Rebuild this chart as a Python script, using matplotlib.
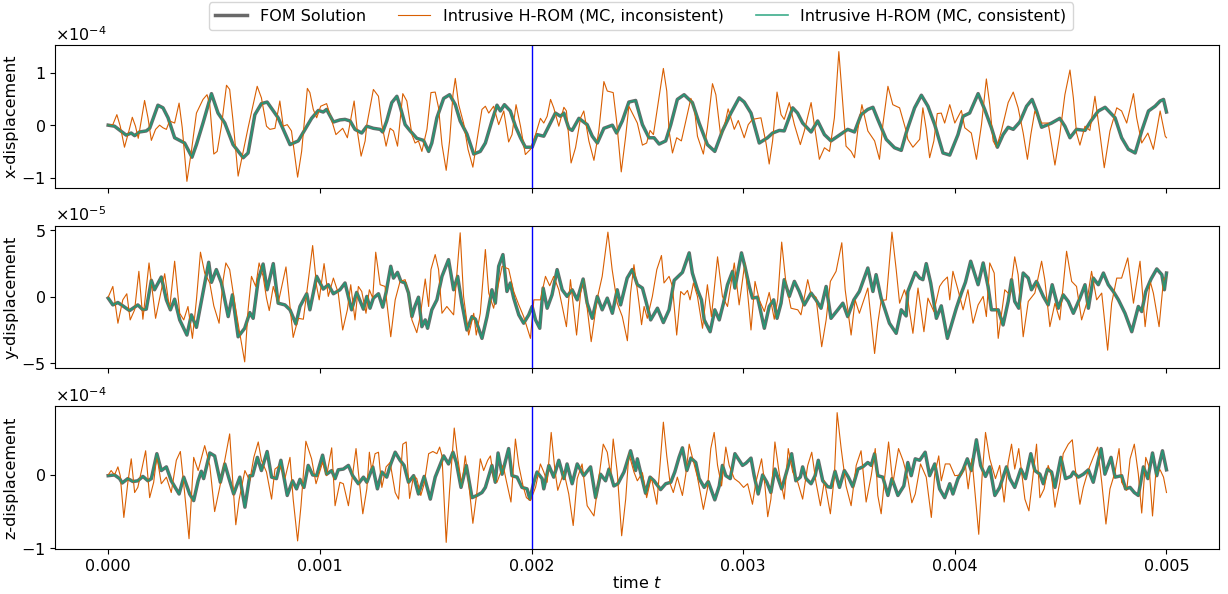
import numpy as np
import matplotlib
matplotlib.use("Agg")
import matplotlib.pyplot as plt
from matplotlib.ticker import MultipleLocator

# values: (time in 1e-3 s, displacement in units of the offset)
# x-displacement, units of 1e-4
x_fom = [
    (0.000, 0.00), (0.030, -0.02), (0.085, -0.19), (0.109, -0.15), (0.125, -0.20), (0.148, -0.13),
    (0.180, -0.11), (0.196, -0.06), (0.235, 0.38), (0.259, 0.33), (0.283, 0.14), (0.314, -0.24),
    (0.361, -0.34), (0.396, -0.61), (0.417, -0.37), (0.448, 0.04), (0.488, 0.60), (0.519, 0.23),
    (0.551, 0.04), (0.590, -0.37), (0.638, -0.62), (0.661, -0.53), (0.693, 0.20), (0.724, 0.41),
    (0.751, 0.44), (0.803, 0.14), (0.859, -0.37), (0.898, -0.30), (0.930, -0.08), (0.961, 0.13),
    (0.993, 0.28), (1.016, 0.25), (1.032, 0.30), (1.064, 0.06), (1.095, 0.10), (1.119, 0.11),
    (1.143, 0.08), (1.166, -0.08), (1.198, -0.15), (1.222, -0.02), (1.253, -0.06), (1.285, -0.08),
    (1.297, -0.13), (1.316, 0.08), (1.340, 0.43), (1.364, 0.55), (1.379, 0.36), (1.403, 0.01),
    (1.427, -0.11), (1.458, -0.25), (1.490, -0.29), (1.514, -0.50), (1.529, -0.34), (1.553, 0.14),
    (1.585, 0.51), (1.613, 0.58), (1.640, 0.39), (1.663, 0.08), (1.695, -0.17), (1.727, -0.55),
    (1.758, -0.50), (1.782, -0.34), (1.813, 0.08), (1.837, 0.38), (1.853, 0.27), (1.872, 0.39),
    (1.900, 0.27), (1.924, -0.02), (1.948, -0.24), (1.971, -0.42), (2.003, -0.42), (2.026, -0.18),
    (2.058, -0.21), (2.082, -0.02), (2.113, 0.23), (2.137, 0.17), (2.153, 0.23), (2.176, -0.06),
    (2.192, -0.10), (2.224, 0.13), (2.263, 0.01), (2.287, -0.21), (2.311, -0.34), (2.342, -0.06),
    (2.382, 0.00), (2.402, -0.15), (2.429, 0.08), (2.460, 0.44), (2.492, 0.47), (2.524, 0.01),
    (2.555, -0.24), (2.579, -0.24), (2.603, -0.36), (2.634, -0.30), (2.658, 0.01), (2.689, 0.49),
    (2.721, 0.58), (2.760, 0.43), (2.792, 0.04), (2.831, -0.37), (2.866, -0.50), (2.902, -0.11),
    (2.942, 0.23), (2.981, 0.52), (3.005, 0.44), (3.037, 0.23), (3.076, -0.34), (3.115, -0.24),
    (3.139, -0.15), (3.171, -0.10), (3.194, -0.11), (3.234, 0.33), (3.257, 0.23), (3.281, 0.04),
    (3.321, -0.13), (3.352, 0.08), (3.384, -0.18), (3.415, -0.30), (3.447, -0.21), (3.494, -0.08),
    (3.526, -0.13), (3.557, 0.20), (3.589, 0.30), (3.613, 0.34), (3.636, 0.11), (3.676, -0.27),
    (3.715, -0.43), (3.747, -0.48), (3.770, -0.15), (3.778, -0.05), (3.810, 0.33), (3.842, 0.57),
    (3.873, 0.36), (3.905, 0.01), (3.944, -0.53), (3.976, -0.57), (4.015, -0.18), (4.039, 0.17),
    (4.070, 0.23), (4.110, 0.60), (4.141, 0.30), (4.173, -0.05), (4.201, -0.42), (4.228, -0.18),
    (4.252, -0.04), (4.276, -0.08), (4.307, 0.06), (4.339, 0.36), (4.365, 0.49), (4.386, 0.27),
    (4.410, -0.04), (4.457, 0.04), (4.496, 0.13), (4.520, -0.02), (4.544, -0.24), (4.575, -0.08),
    (4.615, -0.10), (4.643, 0.08), (4.678, 0.27), (4.710, 0.34), (4.757, 0.14), (4.788, -0.24),
    (4.820, -0.46), (4.852, -0.53), (4.883, -0.11), (4.915, 0.27), (4.946, 0.36), (4.970, 0.46),
    (4.986, 0.49), (5.000, 0.25),
]
x_inc = [
    (0.000, 0.00), (0.022, 0.01), (0.041, 0.20), (0.057, -0.02), (0.077, -0.42), (0.098, -0.11),
    (0.114, 0.15), (0.129, -0.02), (0.142, -0.25), (0.156, 0.08), (0.172, 0.47), (0.188, 0.14),
    (0.204, -0.29), (0.224, -0.08), (0.243, 0.00), (0.259, -0.05), (0.275, -0.08), (0.290, 0.08),
    (0.314, 0.04), (0.335, 0.42), (0.350, -0.05), (0.372, -1.07), (0.393, -0.50), (0.417, 0.23),
    (0.448, 0.49), (0.467, 0.58), (0.480, 0.39), (0.499, -0.55), (0.515, -0.50), (0.535, -0.02),
    (0.559, 0.76), (0.574, 0.68), (0.590, 0.08), (0.614, -0.97), (0.638, -0.50), (0.661, -0.05),
    (0.685, 0.39), (0.704, 0.74), (0.724, 0.52), (0.748, -0.02), (0.764, -0.08), (0.788, -0.06),
    (0.811, 0.46), (0.827, -0.02), (0.846, 0.01), (0.866, -0.11), (0.895, -0.99), (0.914, -0.50),
    (0.941, 0.70), (0.953, 0.62), (0.969, 0.30), (0.985, 0.14), (1.004, 0.36), (1.032, 0.41),
    (1.048, 0.20), (1.076, -0.18), (1.095, -0.11), (1.108, -0.06), (1.130, -0.24), (1.162, 0.46),
    (1.177, -0.11), (1.195, -0.59), (1.214, -0.30), (1.222, 0.01), (1.253, 0.68), (1.277, 0.55),
    (1.293, 0.01), (1.313, -0.40), (1.332, -0.06), (1.348, -0.11), (1.367, -0.40), (1.392, 0.60),
    (1.411, 0.46), (1.435, -0.18), (1.450, -0.34), (1.466, -0.30), (1.482, -0.50), (1.506, -0.08),
    (1.525, 0.62), (1.545, 0.63), (1.561, 0.33), (1.577, -0.37), (1.597, -0.86), (1.613, -0.30),
    (1.629, 0.58), (1.640, 0.89), (1.656, 0.39), (1.679, 0.04), (1.700, -0.46), (1.723, -0.80),
    (1.742, -0.30), (1.766, 0.30), (1.782, 0.36), (1.798, 0.23), (1.821, 0.36), (1.845, 0.01),
    (1.869, 0.27), (1.892, -0.32), (1.908, -0.18), (1.927, 0.39), (1.948, -0.02), (1.971, -0.56),
    (1.995, -0.46), (2.019, -0.18), (2.042, 0.13), (2.058, 0.04), (2.074, 0.17), (2.090, 0.49),
    (2.105, 0.33), (2.129, -0.02), (2.153, 0.34), (2.165, 0.27), (2.187, -0.72), (2.208, -0.43),
    (2.232, 0.14), (2.247, 0.27), (2.271, -0.30), (2.295, -0.67), (2.318, -0.11), (2.342, 0.83),
    (2.358, 0.65), (2.386, 0.62), (2.402, 0.08), (2.424, -0.89), (2.445, -0.21), (2.460, 0.36),
    (2.484, 0.17), (2.500, 0.04), (2.524, -0.38), (2.544, -0.34), (2.560, -0.10), (2.576, -0.18),
    (2.595, 0.33), (2.623, 1.08), (2.639, 0.65), (2.650, -0.11), (2.666, -0.53), (2.686, -0.24),
    (2.708, -0.30), (2.729, 0.08), (2.753, 0.51), (2.771, 0.27), (2.784, -0.21), (2.812, -0.55),
    (2.831, -0.05), (2.855, 0.79), (2.871, 0.58), (2.894, -0.21), (2.913, 0.01), (2.929, 0.31),
    (2.958, -0.08), (2.977, 0.09), (3.005, -0.24), (3.024, 0.01), (3.044, 0.11), (3.084, 0.14),
    (3.108, -0.34), (3.123, -0.74), (3.139, -0.30), (3.160, 0.63), (3.179, 0.20), (3.194, 0.11),
    (3.218, 0.43), (3.242, 0.01), (3.270, -0.37), (3.289, -0.11), (3.321, 0.43), (3.336, 0.01),
    (3.360, -0.65), (3.384, -0.43), (3.408, -0.50), (3.431, 0.14), (3.452, 1.40), (3.466, 0.65),
    (3.486, -0.40), (3.510, -0.50), (3.526, -0.62), (3.542, -0.08), (3.561, 0.39), (3.589, -0.11),
    (3.621, -0.30), (3.644, -0.65), (3.660, 0.01), (3.684, 0.74), (3.707, 0.39), (3.739, 0.33),
    (3.770, -0.11), (3.778, -0.27), (3.802, -0.42), (3.834, -0.27), (3.849, 0.33), (3.865, -0.08),
    (3.881, -0.62), (3.901, -0.30), (3.917, 0.22), (3.936, 0.23), (3.952, 0.04), (3.976, 0.39),
    (4.000, 0.04), (4.031, 0.28), (4.047, -0.05), (4.078, -0.15), (4.102, -0.65), (4.126, 0.01),
    (4.149, 0.88), (4.165, 0.39), (4.181, -0.30), (4.197, -0.42), (4.220, -0.11), (4.252, 0.43),
    (4.276, 0.63), (4.299, 0.33), (4.323, -0.15), (4.343, -0.65), (4.359, -0.18), (4.378, 0.27),
    (4.410, 0.04), (4.441, 0.04), (4.473, -0.76), (4.496, -0.18), (4.520, 0.58), (4.544, 1.05),
    (4.560, 0.52), (4.575, -0.15), (4.591, -0.38), (4.615, -0.02), (4.638, -0.10), (4.662, 0.55),
    (4.686, -0.18), (4.706, -0.81), (4.733, -0.11), (4.765, 0.33), (4.788, 0.27), (4.812, 0.04),
    (4.844, 0.60), (4.859, 0.14), (4.883, -0.34), (4.912, -0.15), (4.938, -0.46), (4.970, 0.27),
    (4.994, -0.21), (5.000, -0.24),
]

# y-displacement, units of 1e-5
y_fom = [
    (0.000, -0.10), (0.022, -0.61), (0.046, -0.43), (0.069, -0.68), (0.101, -1.04), (0.125, -0.78),
    (0.140, -0.61), (0.164, -0.98), (0.180, -0.93), (0.204, 1.24), (0.219, 0.53), (0.251, 1.49),
    (0.275, -0.23), (0.294, -0.98), (0.314, -0.18), (0.338, -1.74), (0.372, -2.88), (0.393, -1.36),
    (0.417, -2.30), (0.448, 0.33), (0.475, 2.60), (0.488, 1.09), (0.511, 2.05), (0.535, 1.04),
    (0.567, -1.49), (0.587, 0.15), (0.614, -3.01), (0.645, -2.37), (0.669, -1.19), (0.685, -1.62),
    (0.709, 1.29), (0.732, 2.47), (0.751, 0.53), (0.780, 2.50), (0.803, -0.48), (0.835, -0.61),
    (0.859, -0.98), (0.887, -2.05), (0.906, -0.73), (0.938, 0.23), (0.953, -0.98), (0.985, 1.54),
    (1.016, 0.58), (1.040, 0.91), (1.064, 0.23), (1.095, 0.53), (1.119, 1.04), (1.150, -0.98),
    (1.174, 0.33), (1.206, -0.93), (1.222, 0.03), (1.237, -0.86), (1.253, -0.10), (1.277, 0.23),
    (1.297, -0.78), (1.313, 0.33), (1.335, 2.30), (1.348, 1.41), (1.367, 1.84), (1.383, 1.16),
    (1.403, 1.04), (1.419, 0.28), (1.435, -1.49), (1.450, -0.68), (1.466, -0.03), (1.482, -2.25),
    (1.498, -1.74), (1.509, -2.37), (1.529, -0.98), (1.553, -0.23), (1.577, 1.54), (1.608, 2.80),
    (1.632, 0.53), (1.651, 1.54), (1.671, -0.48), (1.695, -2.50), (1.719, -1.49), (1.735, -1.69),
    (1.766, -3.13), (1.790, -1.49), (1.813, 0.53), (1.829, -0.48), (1.845, 2.30), (1.865, 3.18),
    (1.884, 0.40), (1.900, 1.04), (1.916, -0.10), (1.940, -1.36), (1.963, -1.99), (1.987, -1.36),
    (2.003, -0.73), (2.019, -1.74), (2.039, -2.37), (2.055, 0.66), (2.074, -0.86), (2.097, 0.15),
    (2.121, 2.05), (2.145, 0.53), (2.168, 0.03), (2.192, 0.53), (2.216, -0.23), (2.244, 1.34),
    (2.263, -0.48), (2.287, -1.62), (2.311, 0.03), (2.334, -0.98), (2.358, -0.10), (2.382, -1.24),
    (2.405, 0.53), (2.421, -0.61), (2.452, 1.41), (2.476, 2.05), (2.500, 0.91), (2.524, 0.66),
    (2.539, -0.23), (2.563, -1.74), (2.595, -0.86), (2.623, -1.94), (2.650, -0.98), (2.674, 1.24),
    (2.713, 1.84), (2.745, 3.31), (2.760, 1.79), (2.784, 0.53), (2.803, -0.23), (2.816, -1.74),
    (2.844, -2.63), (2.866, -0.98), (2.887, -1.74), (2.907, -0.48), (2.926, 0.91), (2.950, 1.92),
    (2.961, 0.66), (2.992, 3.31), (3.008, 2.30), (3.029, 0.78), (3.044, -0.10), (3.068, -0.03),
    (3.100, -2.37), (3.123, -0.73), (3.144, -0.23), (3.160, -1.62), (3.179, -0.48), (3.194, 1.29),
    (3.218, 0.03), (3.242, 1.16), (3.265, 0.40), (3.289, -0.61), (3.321, 0.28), (3.344, -0.23),
    (3.368, -0.86), (3.392, 0.78), (3.415, -1.62), (3.447, -0.98), (3.471, -0.48), (3.494, -1.49),
    (3.523, -0.23), (3.549, 0.40), (3.589, 2.17), (3.613, 0.40), (3.628, 1.67), (3.652, -0.10),
    (3.668, -0.86), (3.691, -1.99), (3.723, -2.75), (3.747, -0.98), (3.770, -1.44), (3.778, 0.40),
    (3.813, 1.84), (3.834, 1.41), (3.849, 1.29), (3.865, 2.50), (3.886, 1.04), (3.913, -1.62),
    (3.936, -0.68), (3.965, -3.13), (3.991, -1.74), (4.007, -0.86), (4.031, 0.28), (4.050, 1.09),
    (4.075, 2.68), (4.110, 0.91), (4.134, 2.55), (4.157, 0.78), (4.173, -0.98), (4.205, -0.98),
    (4.228, -2.12), (4.252, -0.35), (4.268, 1.29), (4.283, -0.35), (4.302, -0.86), (4.323, 1.79),
    (4.347, 1.41), (4.362, 0.53), (4.386, 1.16), (4.418, 0.03), (4.441, -0.61), (4.460, 0.91),
    (4.489, -0.86), (4.512, 0.15), (4.536, -0.35), (4.560, -1.24), (4.591, -0.10), (4.615, 0.91),
    (4.631, -0.86), (4.654, 1.41), (4.678, 0.91), (4.702, 1.79), (4.725, 0.91), (4.749, 0.40),
    (4.773, -0.23), (4.804, -1.24), (4.836, -2.63), (4.867, -0.73), (4.883, -1.11), (4.902, 0.40),
    (4.927, 1.34), (4.954, 2.10), (4.978, 1.67), (4.990, 0.53), (5.000, 1.79),
]
y_inc = [
    (0.000, -0.03), (0.022, 0.78), (0.046, -1.99), (0.069, -0.23), (0.088, 0.23), (0.104, -1.74),
    (0.125, -0.98), (0.145, 1.92), (0.164, -1.69), (0.193, 2.55), (0.224, -1.62), (0.267, 1.74),
    (0.290, -0.93), (0.314, 2.68), (0.338, -1.24), (0.357, -1.74), (0.377, -0.73), (0.398, -3.13),
    (0.417, -0.23), (0.436, 3.36), (0.456, 1.79), (0.480, 1.04), (0.499, -0.68), (0.524, -1.99),
    (0.543, 1.24), (0.556, 2.55), (0.574, 2.05), (0.598, -0.48), (0.619, -2.50), (0.645, -4.90),
    (0.661, -0.98), (0.677, 1.54), (0.697, 0.78), (0.713, 2.55), (0.732, 1.54), (0.748, -0.10),
    (0.761, -1.04), (0.780, 0.78), (0.803, -0.48), (0.840, 2.25), (0.859, -0.73), (0.874, -3.06),
    (0.898, -1.62), (0.922, -1.69), (0.945, 1.16), (0.966, 3.86), (0.985, 0.78), (0.997, -0.23),
    (1.020, 2.50), (1.040, 0.03), (1.064, 1.41), (1.087, 0.28), (1.108, -2.50), (1.130, -0.98),
    (1.146, 0.91), (1.166, -1.74), (1.182, 0.78), (1.198, 0.40), (1.218, -1.24), (1.234, 0.53),
    (1.250, -0.10), (1.264, 3.36), (1.285, 0.91), (1.308, 0.78), (1.335, -3.01), (1.356, -0.23),
    (1.379, 1.16), (1.403, 1.29), (1.419, 0.28), (1.435, -1.74), (1.458, -2.70), (1.474, -1.49),
    (1.498, 1.34), (1.514, -0.73), (1.525, 2.05), (1.545, 3.18), (1.561, 2.05), (1.577, -1.24),
    (1.600, -0.73), (1.632, -1.36), (1.663, 4.82), (1.679, 0.03), (1.703, -2.88), (1.727, -1.24),
    (1.739, -2.88), (1.758, -1.24), (1.782, 3.56), (1.798, 0.28), (1.821, -0.86), (1.840, 0.66),
    (1.861, 2.30), (1.892, 2.10), (1.916, 0.40), (1.940, -0.61), (1.963, -1.49), (1.995, -3.13),
    (2.011, -0.23), (2.042, -0.23), (2.066, 1.54), (2.086, 0.83), (2.105, 1.54), (2.129, 0.53),
    (2.165, -2.25), (2.184, 1.29), (2.213, -2.88), (2.232, 0.28), (2.247, 1.29), (2.282, -3.38),
    (2.311, -0.10), (2.334, 1.54), (2.361, 4.87), (2.381, 2.05), (2.405, -0.48), (2.429, -1.49),
    (2.453, -3.31), (2.468, 0.28), (2.484, 2.42), (2.508, -0.48), (2.520, -2.10), (2.532, -0.73),
    (2.547, -1.62), (2.571, 0.03), (2.592, 2.05), (2.614, 3.11), (2.626, 1.04), (2.650, 1.54),
    (2.666, 0.78), (2.686, -2.88), (2.705, 0.40), (2.721, 0.15), (2.737, 0.48), (2.749, -0.23),
    (2.765, 1.04), (2.784, 0.03), (2.808, -2.37), (2.831, 0.91), (2.850, -1.49), (2.879, 3.01),
    (2.902, 0.03), (2.926, -0.73), (2.958, 2.55), (2.981, -0.61), (3.008, 2.55), (3.037, -2.50),
    (3.056, 1.16), (3.076, -0.23), (3.100, -1.11), (3.123, 0.33), (3.147, -1.69), (3.163, -0.23),
    (3.182, 4.12), (3.202, 1.04), (3.226, -0.86), (3.258, -0.98), (3.273, -1.36), (3.305, 1.29),
    (3.321, 0.15), (3.344, -0.03), (3.371, -3.76), (3.392, -1.74), (3.412, 1.16), (3.439, 1.92),
    (3.466, 4.07), (3.482, 0.53), (3.510, -2.88), (3.529, -0.23), (3.549, -1.24), (3.589, 0.66),
    (3.621, -4.27), (3.636, -1.99), (3.652, -0.28), (3.676, -0.23), (3.703, 4.87), (3.723, 2.05),
    (3.739, -0.48), (3.762, 0.53), (3.780, -0.45), (3.802, -2.75), (3.826, 0.66), (3.854, -2.63),
    (3.873, -0.10), (3.901, -1.11), (3.928, 0.78), (3.944, 1.16), (3.965, 1.49), (3.976, -0.23),
    (3.991, 1.92), (4.015, 0.53), (4.039, -0.98), (4.062, 0.53), (4.086, -1.99), (4.110, -0.61),
    (4.134, 0.03), (4.149, -1.49), (4.165, 2.55), (4.186, 1.79), (4.205, -3.13), (4.236, 0.53),
    (4.260, 0.15), (4.283, 3.01), (4.299, 1.67), (4.323, -3.01), (4.347, -0.35), (4.378, 0.28),
    (4.410, 2.68), (4.425, 1.29), (4.449, -2.25), (4.473, -0.48), (4.496, -1.74), (4.528, 3.43),
    (4.552, 1.16), (4.575, 0.78), (4.599, -1.74), (4.623, -0.48), (4.646, 1.92), (4.670, -0.23),
    (4.694, 0.28), (4.722, -4.02), (4.741, -0.48), (4.765, 1.41), (4.788, 1.41), (4.817, 2.93),
    (4.844, -0.48), (4.875, 2.68), (4.899, -2.25), (4.923, 1.16), (4.938, 0.28), (4.965, -2.25),
    (4.986, 1.29), (5.000, 1.49),
]

# z-displacement, units of 1e-4
z_fom = [
    (0.000, -0.01), (0.030, 0.00), (0.054, -0.05), (0.066, -0.11), (0.093, -0.05), (0.117, -0.09),
    (0.140, -0.08), (0.164, -0.02), (0.188, -0.08), (0.204, -0.05), (0.230, 0.29), (0.251, 0.06),
    (0.275, 0.11), (0.298, -0.08), (0.335, -0.26), (0.357, -0.03), (0.385, -0.26), (0.404, -0.35),
    (0.425, -0.08), (0.440, 0.05), (0.451, -0.05), (0.480, 0.30), (0.503, 0.26), (0.530, -0.10),
    (0.551, 0.15), (0.571, -0.05), (0.593, -0.26), (0.622, -0.03), (0.646, -0.44), (0.669, -0.01),
    (0.682, -0.01), (0.705, 0.24), (0.724, 0.06), (0.751, 0.32), (0.772, -0.03), (0.795, -0.05),
    (0.816, 0.20), (0.846, -0.28), (0.871, -0.08), (0.890, -0.19), (0.906, -0.06), (0.925, -0.17),
    (0.945, 0.13), (0.966, 0.00), (0.985, -0.01), (1.013, 0.27), (1.032, 0.01), (1.056, 0.06),
    (1.072, -0.05), (1.087, 0.07), (1.111, 0.08), (1.135, 0.13), (1.155, -0.01), (1.182, -0.12),
    (1.206, -0.03), (1.222, -0.10), (1.250, 0.11), (1.272, -0.19), (1.293, 0.04), (1.316, -0.03),
    (1.335, 0.15), (1.356, 0.31), (1.379, 0.20), (1.398, 0.13), (1.419, -0.10), (1.443, -0.01),
    (1.466, -0.26), (1.493, -0.02), (1.522, -0.33), (1.545, -0.03), (1.585, 0.26), (1.608, 0.15),
    (1.629, 0.31), (1.645, 0.17), (1.667, -0.17), (1.692, 0.13), (1.719, -0.31), (1.742, -0.28),
    (1.766, -0.24), (1.782, -0.17), (1.813, 0.13), (1.829, -0.10), (1.842, 0.30), (1.861, 0.01),
    (1.892, 0.36), (1.908, -0.01), (1.932, -0.03), (1.955, -0.17), (1.979, -0.19), (1.992, -0.33),
    (2.011, -0.10), (2.026, 0.04), (2.050, -0.05), (2.058, -0.19), (2.082, 0.13), (2.105, -0.03),
    (2.129, 0.20), (2.153, -0.05), (2.168, 0.15), (2.192, -0.12), (2.216, 0.15), (2.247, -0.01),
    (2.279, 0.11), (2.303, -0.31), (2.326, 0.01), (2.350, -0.08), (2.366, 0.08), (2.389, -0.15),
    (2.408, -0.12), (2.437, 0.04), (2.468, 0.33), (2.492, 0.06), (2.500, 0.22), (2.539, -0.25),
    (2.560, -0.03), (2.579, -0.08), (2.610, -0.20), (2.634, -0.12), (2.658, -0.10), (2.677, 0.04),
    (2.697, 0.24), (2.713, 0.37), (2.734, 0.06), (2.753, 0.23), (2.776, 0.17), (2.792, -0.05),
    (2.816, -0.17), (2.835, -0.09), (2.866, -0.34), (2.887, -0.15), (2.902, 0.13), (2.918, -0.01),
    (2.939, -0.05), (2.961, 0.29), (2.981, 0.20), (2.997, 0.13), (3.013, 0.16), (3.037, 0.23),
    (3.052, -0.01), (3.071, -0.26), (3.092, 0.00), (3.112, -0.10), (3.131, -0.24), (3.150, 0.08),
    (3.171, -0.10), (3.182, -0.19), (3.202, 0.01), (3.229, 0.29), (3.249, -0.08), (3.270, -0.03),
    (3.281, 0.11), (3.297, -0.05), (3.321, -0.12), (3.340, -0.01), (3.355, 0.20), (3.376, -0.08),
    (3.399, -0.16), (3.415, -0.17), (3.434, 0.05), (3.455, -0.17), (3.478, 0.06), (3.497, -0.03),
    (3.518, -0.16), (3.542, 0.08), (3.565, 0.11), (3.589, 0.17), (3.605, 0.13), (3.621, 0.29),
    (3.636, -0.01), (3.660, -0.03), (3.684, -0.28), (3.703, -0.05), (3.731, -0.28), (3.759, -0.15),
    (3.778, 0.17), (3.794, -0.01), (3.813, 0.22), (3.834, 0.20), (3.860, 0.31), (3.881, -0.01),
    (3.905, 0.15), (3.928, -0.19), (3.952, -0.31), (3.976, -0.12), (3.991, -0.26), (4.015, -0.05),
    (4.039, 0.07), (4.059, 0.22), (4.078, 0.06), (4.102, 0.48), (4.122, 0.13), (4.145, -0.02),
    (4.165, 0.11), (4.189, -0.28), (4.212, -0.17), (4.244, 0.11), (4.260, -0.05), (4.283, -0.17),
    (4.312, 0.08), (4.334, -0.05), (4.359, 0.29), (4.378, 0.06), (4.402, 0.01), (4.418, -0.12),
    (4.438, 0.08), (4.457, 0.04), (4.473, -0.17), (4.501, 0.24), (4.523, -0.05), (4.548, -0.02),
    (4.560, 0.04), (4.583, -0.03), (4.607, 0.01), (4.631, 0.07), (4.654, -0.10), (4.691, 0.36),
    (4.709, 0.01), (4.738, 0.24), (4.757, -0.03), (4.788, -0.01), (4.807, -0.19), (4.828, -0.17),
    (4.848, -0.24), (4.867, -0.28), (4.891, 0.11), (4.912, -0.05), (4.934, 0.30), (4.954, -0.01),
    (4.981, 0.33), (5.000, 0.07),
]
z_inc = [
    (0.000, 0.00), (0.014, 0.06), (0.030, 0.00), (0.046, 0.11), (0.057, -0.01), (0.074, -0.58),
    (0.093, -0.10), (0.109, 0.22), (0.125, -0.24), (0.140, -0.17), (0.156, 0.04), (0.177, 0.33),
    (0.196, -0.31), (0.215, -0.10), (0.230, 0.26), (0.251, -0.12), (0.275, -0.03), (0.298, -0.24),
    (0.322, 0.20), (0.341, 0.32), (0.361, -0.24), (0.382, -0.87), (0.404, 0.24), (0.425, 0.06),
    (0.456, 0.40), (0.480, 0.13), (0.503, -0.50), (0.527, -0.17), (0.551, 0.20), (0.574, 0.56),
    (0.590, -0.15), (0.603, -0.68), (0.619, -0.33), (0.646, 0.06), (0.669, -0.08), (0.688, 0.24),
    (0.709, 0.45), (0.724, 0.20), (0.748, 0.04), (0.772, -0.33), (0.788, 0.08), (0.811, 0.13),
    (0.835, -0.05), (0.859, 0.24), (0.874, -0.33), (0.895, -0.90), (0.911, -0.42), (0.934, 0.46),
    (0.961, 0.22), (0.982, -0.12), (1.001, 0.06), (1.013, 0.17), (1.032, -0.01), (1.056, 0.37),
    (1.072, -0.42), (1.095, -0.10), (1.111, -0.12), (1.135, -0.42), (1.151, -0.08), (1.171, 0.36),
    (1.182, 0.04), (1.203, -0.53), (1.222, -0.19), (1.234, 0.31), (1.245, 0.06), (1.261, 0.29),
    (1.277, 0.31), (1.293, -0.17), (1.313, 0.11), (1.332, 0.17), (1.356, -0.24), (1.372, -0.33),
    (1.392, 0.42), (1.408, 0.45), (1.424, -0.32), (1.443, -0.01), (1.458, -0.05), (1.477, -0.28),
    (1.493, -0.12), (1.514, 0.29), (1.534, 0.32), (1.553, 0.29), (1.566, 0.38), (1.577, 0.26),
    (1.597, -0.92), (1.613, -0.21), (1.635, 0.64), (1.651, 0.24), (1.671, -0.15), (1.687, 0.26),
    (1.703, -0.10), (1.723, -0.66), (1.742, -0.24), (1.758, 0.22), (1.774, 0.06), (1.793, 0.20),
    (1.806, 0.26), (1.821, -0.05), (1.837, -0.10), (1.866, 0.13), (1.881, -0.08), (1.903, -0.37),
    (1.924, 0.49), (1.940, 0.13), (1.960, -0.15), (1.976, -0.31), (1.995, -0.35), (2.019, -0.17),
    (2.042, 0.15), (2.058, 0.04), (2.074, -0.10), (2.093, 0.58), (2.110, 0.08), (2.124, -0.21),
    (2.153, 0.04), (2.176, -0.26), (2.197, -0.69), (2.216, -0.05), (2.239, 0.15), (2.263, -0.42),
    (2.295, -0.56), (2.318, -0.05), (2.339, 0.42), (2.358, 0.31), (2.374, -0.01), (2.386, 0.49),
    (2.405, 0.04), (2.426, -0.83), (2.445, -0.33), (2.460, 0.29), (2.484, 0.04), (2.500, -0.08),
    (2.524, 0.03), (2.544, -0.31), (2.566, -0.03), (2.592, -0.40), (2.607, 0.13), (2.623, 0.72),
    (2.639, 0.26), (2.655, -0.12), (2.670, -0.24), (2.689, -0.03), (2.713, -0.28), (2.729, 0.01),
    (2.745, 0.42), (2.760, 0.24), (2.784, -0.03), (2.812, -0.47), (2.831, -0.19), (2.847, 0.36),
    (2.863, 0.58), (2.879, 0.13), (2.898, -0.15), (2.918, 0.38), (2.934, 0.13), (2.958, -0.05),
    (2.981, -0.10), (3.002, -0.17), (3.021, -0.12), (3.044, -0.40), (3.060, -0.10), (3.087, 0.22),
    (3.103, -0.15), (3.116, -0.57), (3.131, -0.33), (3.150, 0.45), (3.171, 0.01), (3.194, -0.33),
    (3.213, 0.36), (3.234, 0.04), (3.258, -0.10), (3.281, -0.33), (3.305, 0.13), (3.324, 0.31),
    (3.344, -0.10), (3.365, -0.42), (3.384, -0.08), (3.412, -0.53), (3.431, -0.01), (3.444, 0.85),
    (3.463, 0.36), (3.486, -0.15), (3.510, -0.42), (3.534, 0.13), (3.557, 0.33), (3.581, -0.37),
    (3.605, -0.01), (3.624, 0.36), (3.636, -0.28), (3.652, -0.53), (3.668, -0.05), (3.687, 0.45),
    (3.707, -0.12), (3.734, 0.36), (3.755, 0.20), (3.778, -0.05), (3.797, -0.38), (3.813, -0.26),
    (3.838, 0.15), (3.865, -0.03), (3.889, -0.58), (3.905, 0.01), (3.924, 0.26), (3.936, -0.08),
    (3.955, 0.15), (3.976, 0.15), (4.000, -0.01), (4.031, 0.00), (4.050, 0.13), (4.063, -0.19),
    (4.081, 0.22), (4.113, -0.81), (4.129, -0.01), (4.145, 0.58), (4.165, 0.22), (4.192, -0.05),
    (4.212, 0.13), (4.233, -0.37), (4.252, 0.17), (4.268, 0.42), (4.283, 0.08), (4.302, 0.36),
    (4.331, -0.33), (4.350, -0.49), (4.365, -0.12), (4.386, 0.42), (4.402, -0.31), (4.422, -0.19),
    (4.441, 0.13), (4.457, -0.01), (4.473, -0.44), (4.496, -0.10), (4.512, 0.29), (4.536, 0.42),
    (4.555, 0.48), (4.567, 0.13), (4.591, -0.40), (4.607, -0.17), (4.631, 0.07), (4.654, 0.24),
    (4.675, 0.38), (4.694, -0.10), (4.714, -0.67), (4.733, -0.19), (4.757, 0.04), (4.776, 0.36),
    (4.788, -0.10), (4.812, -0.21), (4.828, 0.22), (4.848, 0.42), (4.867, 0.01), (4.883, -0.52),
    (4.902, 0.24), (4.918, 0.11), (4.934, -0.56), (4.949, 0.01), (4.970, 0.07), (4.986, -0.03),
    (5.000, -0.24),
]

# the consistent H-ROM sits on top of the FOM solution
panels = [
    ("x-displacement", x_fom, x_inc, x_fom, 1e-4, 1e-4),
    ("y-displacement", y_fom, y_inc, y_fom, 1e-5, 5e-5),
    ("z-displacement", z_fom, z_inc, z_fom, 1e-4, 1e-4),
]
t_split = 0.002

plt.rcParams['font.size'] = 11.5
fig, axes = plt.subplots(3, 1, figsize=(12.28, 5.94), dpi=100, sharex=True)
fig.subplots_adjust(left=0.045, right=0.993, top=0.924, bottom=0.076, hspace=0.265)

for ax, (label, fom, inc, cons, scale, step) in zip(axes, panels):
    fom = np.array(fom)
    inc = np.array(inc)
    cons = np.array(cons)
    ax.plot(fom[:, 0] * 1e-3, fom[:, 1] * scale, color='dimgray', lw=2.5, label='FOM Solution')
    ax.plot(inc[:, 0] * 1e-3, inc[:, 1] * scale, color='#d95f02', lw=0.8,
            label='Intrusive H-ROM (MC, inconsistent)')
    ax.plot(cons[:, 0] * 1e-3, cons[:, 1] * scale, color='#1b9e77', lw=1.2, alpha=0.85,
            label='Intrusive H-ROM (MC, consistent)')
    ax.axvline(t_split, color='blue', lw=1)
    ax.set_ylabel(label, labelpad=2)
    ax.yaxis.set_major_locator(MultipleLocator(step))
    ax.ticklabel_format(axis='y', style='sci', scilimits=(0, 0), useMathText=True)

axes[2].set_xlabel('time $t$', labelpad=1)
handles, labels = axes[0].get_legend_handles_labels()
fig.legend(handles, labels, loc='upper center', bbox_to_anchor=(0.522, 1.0), ncol=3,
           borderaxespad=0.15)

plt.savefig('out.png')
